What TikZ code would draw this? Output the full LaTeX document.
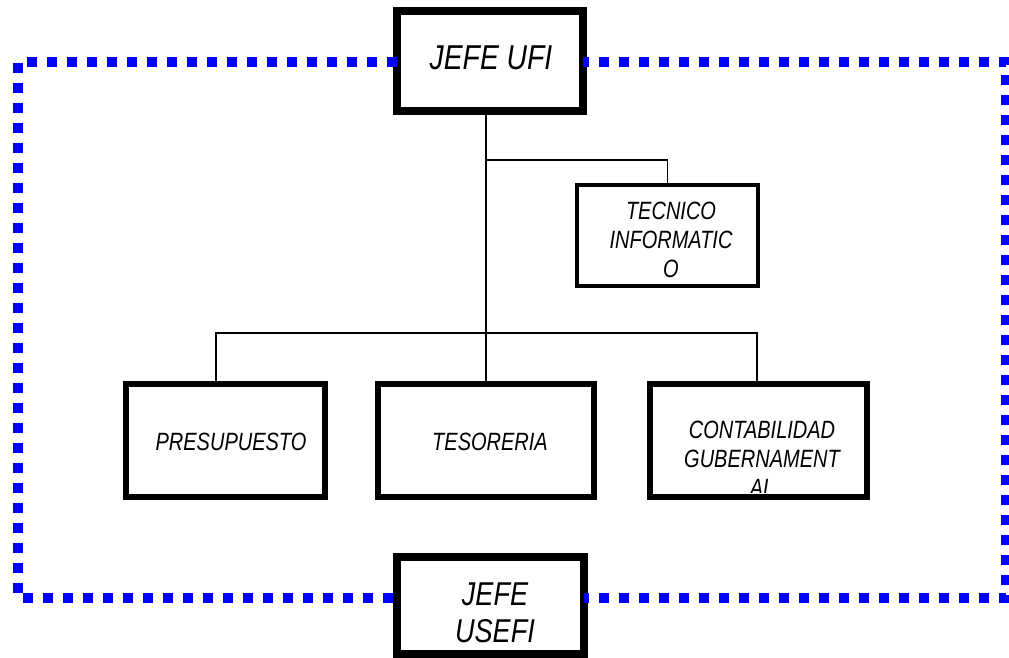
\documentclass[tikz,border=0pt]{standalone}
\usepackage{fontspec}
\newfontfamily\orgfont[FakeStretch=0.8]{Liberation Sans}
\newfontfamily\headfont[FakeStretch=0.82]{Liberation Sans}
\begin{document}
\begin{tikzpicture}[x=1pt,y=-1pt,
  orgbox/.style={draw=black, inner sep=0pt, outer sep=0pt, line join=miter},
  heavybox/.style={orgbox, line width=8pt},
  midbox/.style={orgbox, line width=6pt},
  thinbox/.style={orgbox, line width=4pt},
  wire/.style={draw=black, line width=1.8pt},
  frameline/.style={draw={rgb,255:red,0;green,0;blue,255}, line width=10pt, dash pattern=on 10pt off 10pt},
  lbl/.style={inner sep=0pt, align=center, font=\orgfont\itshape\fontsize{25}{29}\selectfont},
  headlbl/.style={inner sep=0pt, align=center, font=\headfont\itshape\fontsize{34.5}{37}\selectfont},
  subhead/.style={inner sep=0pt, align=center, font=\headfont\itshape\fontsize{33}{37}\selectfont}]
\useasboundingbox (0,0) rectangle (1009,658);

% frame corners and connector bus points
\coordinate (tl) at (18,62);
\coordinate (bl) at (18,598);
\coordinate (tr) at (1006,62);
\coordinate (br) at (1006,598);
\coordinate (tecy) at (487,160);
\coordinate (busL) at (216,333);
\coordinate (busR) at (757,333);

% boxes
\node[heavybox, minimum width=186pt, minimum height=100pt] (ufi) at (490,61) {};
\node[heavybox, minimum width=187pt, minimum height=97pt] (usefi) at (490.5,605.5) {};
\node[thinbox, minimum width=181pt, minimum height=101pt] (tec) at (667.5,235.5) {};
\node[midbox, minimum width=199pt, minimum height=113pt] (pre) at (225.5,440.5) {};
\node[midbox, minimum width=216pt, minimum height=113pt] (tes) at (486,440.5) {};
\node[midbox, minimum width=217pt, minimum height=113pt] (con) at (758.5,440.5) {};

% connectors
\draw[wire] (tes.north |- ufi.south) -- (tes.north);
\draw[wire] (tecy) -| (tec.north);
\draw[wire] (pre.north -| busL) -- (busL) -- (busR) -- (con.north -| busR);

% labels (base anchor of a multi-line label sits on its last line)
\node[headlbl, anchor=base] (ufitxt) at (491,70) {JEFE UFI};
\node[subhead, anchor=base] (usefitxt) at (495,642) {JEFE\\USEFI};
\node[lbl, anchor=base] (tectxt) at (671,277) {TECNICO\\INFORMATIC\\O};
\node[lbl, anchor=base] (pretxt) at (231,450) {PRESUPUESTO};
\node[lbl, anchor=base] (testxt) at (490,450) {TESORERIA};
\begin{scope}
  \clip ([xshift=3pt,yshift=5pt]con.south west) rectangle ([xshift=-3pt,yshift=-3pt]con.north east);
  \node[lbl, anchor=base] (contxt) at (762,496) {CONTABILIDAD\\GUBERNAMENT\\AL};
\end{scope}

% dotted frame, in two halves meeting the top and bottom boxes
\draw[frameline] (ufi.west |- tl) -- (tl) -- (bl) -- (usefi.west |- bl);
\draw[frameline, dash phase=4pt] (ufi.east |- tr) -- (tr) -- (br) -- (usefi.east |- br);
\end{tikzpicture}
\end{document}
